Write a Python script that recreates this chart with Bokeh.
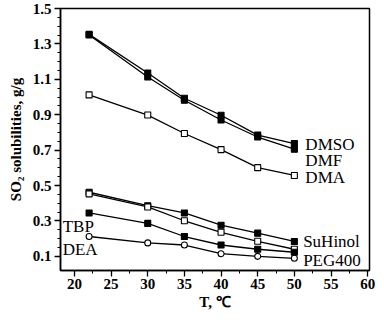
from bokeh.plotting import figure
from bokeh.models import Label, Range1d, FixedTicker
from bokeh.embed import file_html
from bokeh.resources import INLINE

T = [22, 30, 35, 40, 45, 50]
dmso = [1.354, 1.136, 0.993, 0.897, 0.785, 0.737]
dmf = [1.350, 1.113, 0.982, 0.870, 0.774, 0.705]
dma = [1.012, 0.898, 0.794, 0.703, 0.601, 0.557]
suhinol = [0.462, 0.386, 0.345, 0.276, 0.231, 0.184]
peg400 = [0.453, 0.379, 0.301, 0.236, 0.185, 0.140]
tbp = [0.345, 0.286, 0.212, 0.164, 0.140, 0.123]
dea = [0.212, 0.176, 0.164, 0.115, 0.100, 0.089]

x_ticks = [20, 25, 30, 35, 40, 45, 50, 55, 60]
y_ticks = [0.1, 0.3, 0.5, 0.7, 0.9, 1.1, 1.3, 1.5]

FONT = "Liberation Serif"

p = figure(width=376, height=312, output_backend="svg", toolbar_location=None,
           x_range=Range1d(18.1, 60.25), y_range=Range1d(0.02, 1.5),
           min_border_left=60, min_border_right=7, min_border_top=8, min_border_bottom=40)
p.background_fill_color = "white"
p.border_fill_color = "white"
p.outline_line_color = "black"
p.outline_line_width = 1.5
p.grid.visible = False

p.xaxis.ticker = FixedTicker(ticks=x_ticks, minor_ticks=[t + 2.5 for t in x_ticks[:-1]])
p.yaxis.ticker = FixedTicker(ticks=y_ticks,
                             minor_ticks=[round(0.1 + 0.05 * i, 2) for i in range(29)])
for ax in (p.xaxis[0], p.yaxis[0]):
    ax.axis_line_color = "black"
    ax.axis_line_width = 1.5
    ax.major_tick_line_color = "black"
    ax.minor_tick_line_color = "black"
    ax.major_tick_line_width = 1.3
    ax.minor_tick_line_width = 1.0
    ax.major_tick_out = 6
    ax.major_tick_in = 0
    ax.minor_tick_out = 3
    ax.minor_tick_in = 0
    ax.major_label_text_font = FONT
    ax.major_label_text_font_style = "bold"
    ax.major_label_text_font_size = "15px"
    ax.major_label_text_color = "black"
    ax.axis_label_text_font = FONT
    ax.axis_label_text_font_style = "bold"
    ax.axis_label_text_font_size = "15px"
    ax.axis_label_text_color = "black"
p.xaxis.major_label_standoff = 2
p.yaxis.major_label_standoff = 3
p.xaxis.axis_label = "T, \u2103"
p.yaxis.axis_label = "SO\u2082 solubilities, g/g"
p.xaxis.axis_label_standoff = 2
p.yaxis.axis_label_standoff = 6

series = [
    (dmso, "square", "black"),
    (dmf, "square", "black"),
    (dma, "square", "white"),
    (suhinol, "square", "black"),
    (peg400, "square", "white"),
    (tbp, "square", "black"),
    (dea, "circle", "white"),
]
for ys, mk, fill in series:
    p.line(T, ys, line_color="black", line_width=1.3)
    p.scatter(T, ys, marker=mk, size=6, fill_color=fill, line_color="black", line_width=1.1)

labels = [
    ("DMSO", 51.5, 0.732),
    ("DMF", 51.5, 0.640),
    ("DMA", 51.5, 0.544),
    ("SuHinol", 51.2, 0.185),
    ("PEG400", 51.2, 0.077),
    ("TBP", 18.4, 0.271),
    ("DEA", 18.4, 0.140),
]
for txt, lx, ly in labels:
    p.add_layout(Label(x=lx, y=ly, text=txt, text_font=FONT, text_font_size="17px",
                       text_baseline="middle", text_align="left", text_color="black"))

open("out.html", "w").write(file_html(p, INLINE))
